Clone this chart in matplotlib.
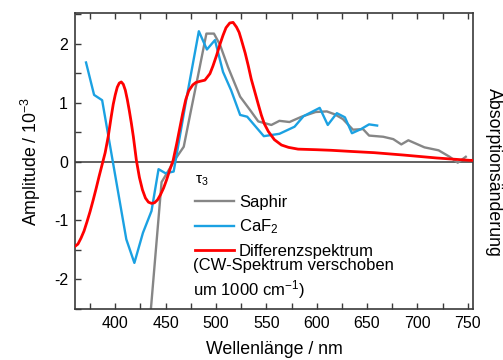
import numpy as np
import matplotlib
matplotlib.use('Agg')
import matplotlib.pyplot as plt
from matplotlib.lines import Line2D

plt.rcParams['font.family'] = ['Liberation Sans', 'DejaVu Sans']
plt.rcParams['mathtext.default'] = 'regular'
plt.rcParams['axes.unicode_minus'] = False

# Saphir (grey)
saphir_nm = [430, 446, 460, 468, 475, 482, 490.5, 498, 504, 512, 524, 534, 542, 555,
             563, 573, 585, 599, 610, 618, 626, 636, 646, 652, 666, 676, 684, 691,
             707, 721, 732, 740, 748]
saphir_amp = [-3.6, -0.35, 0.05, 0.25, 0.85, 1.44, 2.17, 2.17, 1.98, 1.60, 1.10, 0.87,
              0.68, 0.62, 0.69, 0.67, 0.76, 0.84, 0.85, 0.80, 0.72, 0.54, 0.55, 0.44,
              0.42, 0.38, 0.29, 0.36, 0.24, 0.19, 0.08, -0.02, 0.08]

# CaF2 (blue)
caf2_nm = [371, 379, 387, 411, 419, 427.5, 436, 443, 450, 458, 470, 483, 491, 499,
           507, 515, 524, 531, 547.5, 563, 578, 587, 603, 611, 620, 628, 635, 644,
           652, 660]
caf2_amp = [1.68, 1.13, 1.04, -1.32, -1.72, -1.21, -0.84, -0.13, -0.20, -0.17, 1.0,
            2.21, 1.90, 2.06, 1.52, 1.21, 0.79, 0.76, 0.43, 0.47, 0.59, 0.77, 0.91,
            0.62, 0.82, 0.75, 0.48, 0.55, 0.63, 0.61]

# Differenzspektrum (red)
diff_nm = [360, 363, 366, 369, 372, 375, 378, 381, 384, 387, 390, 393, 396, 398,
           400, 402, 404, 406, 408, 410, 412, 414, 416, 418, 421, 424, 427, 430,
           433, 436, 439, 442, 445, 448, 451, 454, 457.5, 461, 464, 467, 470, 473,
           477, 480, 484, 489, 494, 497, 500.6, 504, 507, 510, 513.7, 517, 520.4,
           523, 525.3, 529, 532, 535, 538.6, 542, 545, 548, 552, 558, 565, 572,
           581.5, 600, 614.6, 635, 657, 686, 719, 752, 755]
diff_amp = [-1.44, -1.40, -1.30, -1.18, -1.02, -0.85, -0.66, -0.46, -0.25, -0.05,
            0.15, 0.42, 0.76, 0.97, 1.13, 1.26, 1.33, 1.35, 1.31, 1.21, 1.05, 0.86,
            0.65, 0.42, 0.02, -0.27, -0.48, -0.62, -0.69, -0.71, -0.70, -0.65,
            -0.56, -0.45, -0.31, -0.15, 0.02, 0.30, 0.56, 0.82, 1.05, 1.20, 1.30,
            1.34, 1.36, 1.38, 1.49, 1.62, 1.80, 1.99, 2.14, 2.27, 2.35, 2.36, 2.28,
            2.19, 2.06, 1.84, 1.63, 1.40, 1.18, 0.97, 0.79, 0.64, 0.51, 0.37, 0.28,
            0.24, 0.21, 0.20, 0.19, 0.17, 0.15, 0.11, 0.06, 0.02, 0.02]

col_saphir = '#868686'
col_caf2 = '#1ba1e2'
col_diff = '#ff0000'
col_axis = '#3a3a3a'

fig = plt.figure(figsize=(5.03, 3.60), dpi=100)
ax = fig.add_axes([0.149, 0.142, 0.791, 0.822])

ax.axhline(0, color='#555555', lw=1.3, zorder=1)
ax.plot(saphir_nm, saphir_amp, color=col_saphir, lw=1.7, zorder=2)
ax.plot(caf2_nm, caf2_amp, color=col_caf2, lw=1.7, zorder=3)
ax.plot(diff_nm, diff_amp, color=col_diff, lw=2.0, zorder=4)

ax.set_xlim(360, 755)
ax.set_ylim(-2.5, 2.52)
ax.set_xticks(np.arange(400, 751, 50))
ax.set_xticks(np.arange(375, 751, 25), minor=True)
ax.set_yticks([-2, -1, 0, 1, 2])
ax.set_yticks(np.arange(-2.5, 2.6, 0.5), minor=True)
ax.tick_params(which='both', direction='in', length=4, width=1, color=col_axis,
               top=True, right=False, labelsize=11.5, pad=5)
for s in ax.spines.values():
    s.set_color(col_axis)
    s.set_linewidth(1.2)

ax.set_xlabel('Wellenlänge / nm', fontsize=12.8, labelpad=7)
ax.set_ylabel('Amplitude / 10$^{-3}$', fontsize=12.8, labelpad=8)
fig.text(0.982, 0.52, 'Absorptionsänderung', rotation=270, fontsize=12.8,
         ha='center', va='center')

handles = [Line2D([], [], color=col_saphir, lw=1.7),
           Line2D([], [], color=col_caf2, lw=1.7),
           Line2D([], [], color=col_diff, lw=2.0)]
labels = ['Saphir', 'CaF$_2$', 'Differenzspektrum']
leg = ax.legend(handles, labels, title='τ$_3$', loc='upper left',
                bbox_to_anchor=(0.28, 0.49), frameon=False, fontsize=12,
                title_fontsize=11, handlelength=2.35, handletextpad=0.3,
                labelspacing=0.45, borderpad=0, alignment='left')
ax.text(0.297, 0.172, '(CW-Spektrum verschoben\num 1000 cm$^{-1}$)',
        transform=ax.transAxes, fontsize=12, va='top', ha='left',
        linespacing=1.3)

fig.savefig('out.png', dpi=100)
